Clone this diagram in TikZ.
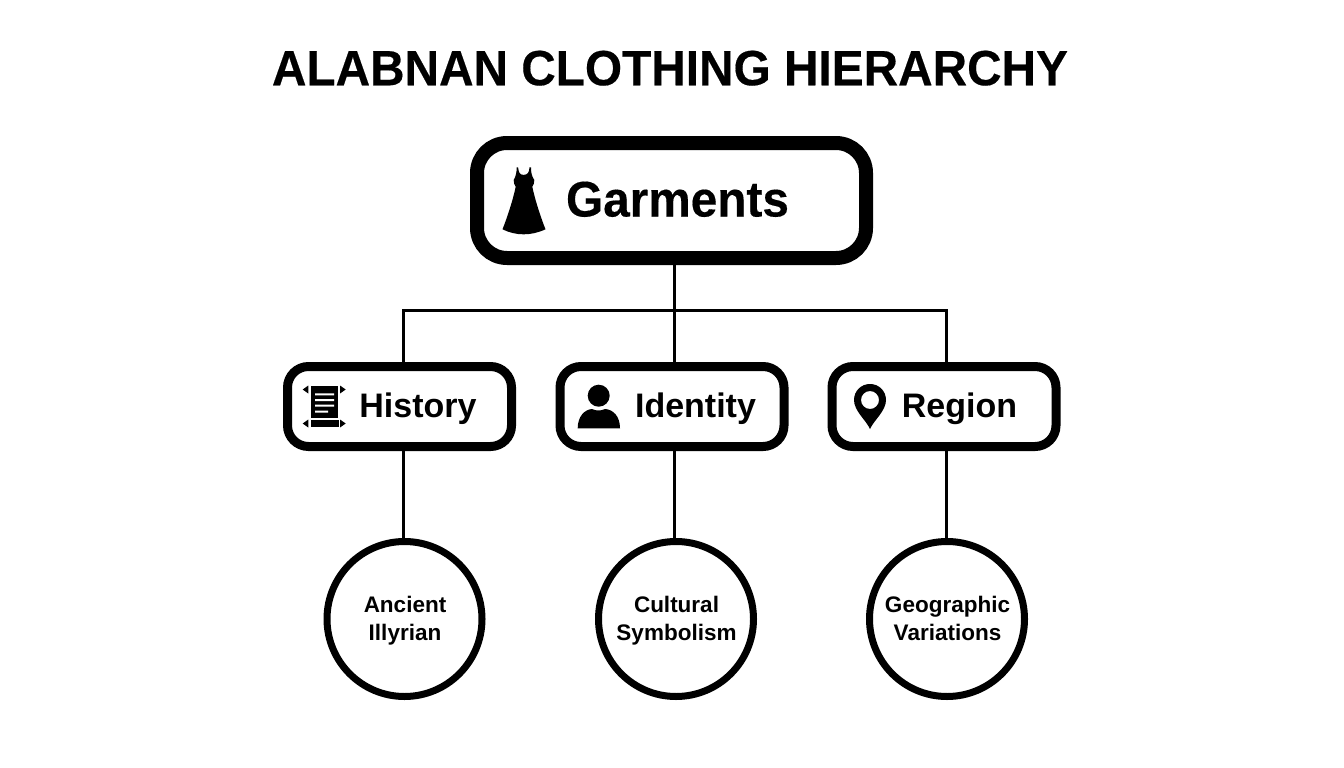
\documentclass[tikz,border=0pt]{standalone}
\usepackage{fontspec}
\setmainfont{Liberation Sans}
\newfontfamily\titlefont[FakeStretch=0.965,FakeBold=0.3]{Liberation Sans Bold}
\newfontfamily\garmentfont[FakeStretch=0.955,FakeBold=0.3]{Liberation Sans Bold}
\usetikzlibrary{positioning}
\tikzset{
  topbox/.style={draw,line width=14pt,rounded corners=30pt,minimum width=389pt,minimum height=115pt,inner sep=0pt},
  midbox/.style={draw,line width=9pt,rounded corners=21pt,minimum width=224pt,minimum height=80pt,inner sep=0pt},
  leaf/.style={draw,circle,line width=7pt,minimum size=155pt,inner sep=0pt},
  leaflabel/.style={inner sep=0pt,align=center,yshift=-4pt,xshift=0.5pt,font=\fontsize{22.5}{28}\selectfont\bfseries,execute at end node=\strut},
  boxlabel/.style={inner sep=0pt,text height=24.4pt,text depth=0pt,yshift=1pt,font=\fontsize{34}{40}\selectfont\bfseries},
  link/.style={line width=3pt}
}
\begin{document}
\begin{tikzpicture}[x=1pt,y=-1pt,node distance=206pt]
\useasboundingbox (0,0) rectangle (1344,768);
\node[inner sep=0pt,text height=35.5pt,text depth=0pt,font=\fontsize{49.5}{56}\selectfont\titlefont] (title) at (670,67.5) {ALABNAN CLOTHING HIERARCHY};
\node[topbox] (garments) at (671.5,200.5) {};
\node[midbox] (identity) [below of=garments,xshift=0.5pt] {};
\node[midbox] (history) [left of=identity,node distance=272.5pt] {};
\node[midbox] (region) [right of=identity,node distance=272pt] {};
\node[leaf] (ancient) [below of=history,node distance=212.5pt,xshift=5pt] {};
\node[leaf] (cultural) [below of=identity,node distance=212.5pt,xshift=4pt] {};
\node[leaf] (geographic) [below of=region,node distance=212.5pt,xshift=3pt] {};
\node[leaflabel] (ancienttext) at (ancient) {Ancient\\Illyrian};
\node[leaflabel] (culturaltext) at (cultural) {Cultural\\Symbolism};
\node[leaflabel] (geographictext) at (geographic) {Geographic\\Variations};
\node[boxlabel,text height=36pt,yshift=1pt,font=\fontsize{50}{56}\selectfont\garmentfont] (garmentstext) [right of=garments,node distance=6pt] {Garments};
\node[boxlabel] (historytext) [right of=history,node distance=18.5pt] {History};
\node[boxlabel] (identitytext) [right of=identity,node distance=23.5pt] {Identity};
\node[boxlabel] (regiontext) [right of=region,node distance=15.5pt] {Region};
% connectors
\coordinate (busL) at (403,310);
\coordinate (busM) at (674.5,310);
\coordinate (busR) at (946,310);
\draw[link] (garments.south -| busM) -- (identity.north -| busM);
\draw[link] (history.north -| busL) -- (busL) -- (busR) -- (region.north -| busR);
\draw[link] (history.south -| busL) -- (ancient.north -| busL);
\draw[link] (identity.south -| busM) -- (cultural.north -| busM);
\draw[link] (region.south -| busR) -- (geographic.north -| busR);
% dress
\fill (516.7,167.3) -- (518,167.3) .. controls (518.5,170) and (519,172) .. (519.5,173) .. controls (520.5,175.5) and (526.5,175.5) .. (528,173) .. controls (528.8,172) and (529.3,170) .. (529.5,167.3) -- (531,167.3) .. controls (531,172) and (531.5,176) .. (534.3,180) .. controls (534.5,183) and (533.5,185) .. (532.3,186.7) .. controls (535,200) and (541,218) .. (545.5,229.3) .. controls (531,236) and (516,236) .. (502.5,229.3) .. controls (507,218) and (513,200) .. (515.7,186.7) .. controls (514.5,185) and (513.5,183) .. (513.7,180) .. controls (516,176) and (516.7,172) .. (516.7,167.3) -- cycle;
% scroll
\fill (310.7,385.7) rectangle (338.3,417.7);
\fill (310.7,420) rectangle (339,426.7);
\fill[white] (315,393.3) rectangle (334,395.3) (315,399) rectangle (334,401) (315,404.7) rectangle (334,406.7) (315,410.7) rectangle (328,412.7);
\fill (308.3,385.5) -- (302.7,389.5) -- (308.3,393.5) -- cycle;
\fill (340,385.5) -- (345.7,389.5) -- (340,393.5) -- cycle;
\fill (308.3,419.5) -- (302.7,423.5) -- (308.3,427.5) -- cycle;
\fill (340,419.5) -- (345.7,423.5) -- (340,427.5) -- cycle;
% person
\fill (598.7,395.7) circle (11pt);
\fill (577.7,428.3) .. controls (577.7,416) and (585,409.5) .. (592,409) .. controls (596,411) and (601,411) .. (605,409) .. controls (613,409.5) and (620,416) .. (620,428.3) -- cycle;
% pin
\fill[even odd rule] (870,429) .. controls (866,420) and (854,411) .. (854,400) .. controls (854,391) and (861,384) .. (870,384) .. controls (879,384) and (886,391) .. (886,400) .. controls (886,411) and (874,420) .. (870,429) -- cycle (870,400) circle (9pt);
\end{tikzpicture}
\end{document}
